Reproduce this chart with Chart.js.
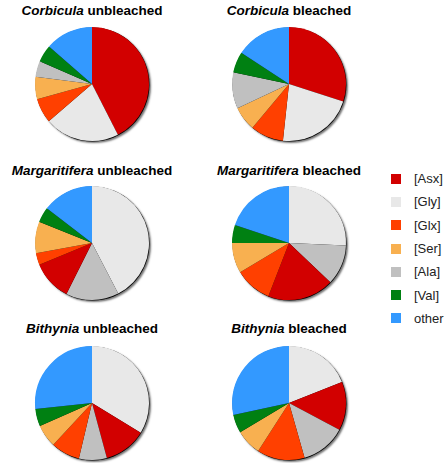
<!DOCTYPE html>
<html lang="en">
<head>
  <meta charset="UTF-8">
  <title>Amino acid composition</title>
  <script src="https://cdn.jsdelivr.net/npm/chart.js"></script>
  <style>
    body {
      margin: 0;
      background: #fff;
      font-family: 'Liberation Sans', Arial, sans-serif;
    }
    #wrap {
      position: relative;
      width: 447px;
      height: 463px;
    }
    .title {
      position: absolute;
      width: 200px;
      text-align: center;
      font-weight: bold;
      font-size: 13.5px;
      color: #000;
      white-space: nowrap;
    }
    .pie {
      position: absolute;
    }
    .legend {
      position: absolute;
      left: 391px;
      top: 167px;
      font-size: 13px;
      color: #222;
    }
    .legend div {
      height: 23.3px;
      display: flex;
      align-items: center;
    }
    .legend span.box {
      display: inline-block;
      width: 10px;
      height: 10px;
      margin-right: 13px;
    }
  </style>
</head>
<body>
<div id="wrap"></div>

<script>
  const categories = ['[Asx]', '[Gly]', '[Glx]', '[Ser]', '[Ala]', '[Val]', 'other'];
  const colors = ['#d20000', '#e8e8e8', '#ff4000', '#f8b050', '#c0c0c0', '#008012', '#3399ff'];

  // percentages, in category order
  const corbiculaUnbleached    = [42.5, 21.2, 7.0, 6.3, 4.5, 4.9, 13.6];
  const corbiculaBleached      = [30.0, 21.7, 9.4, 6.9, 10.3, 5.9, 15.8];
  const margaritiferaUnbleached = [11.4, 42.4, 3.3, 9.0, 15.0, 4.3, 14.6];
  const margaritiferaBleached  = [18.8, 25.7, 10.5, 8.6, 11.4, 5.1, 19.9];
  const bithyniaUnbleached     = [12.1, 33.7, 8.2, 6.5, 7.9, 4.9, 26.7];
  const bithyniaBleached       = [13.8, 19.0, 13.5, 7.3, 12.8, 5.2, 28.4];

  // clockwise slice order (index into categories) used in each pie
  const orderCorbicula = [0, 1, 2, 3, 4, 5, 6];
  const orderMargaritifera = [1, 4, 0, 2, 3, 5, 6];
  const orderBithynia = [1, 0, 4, 2, 3, 5, 6];

  const panels = [
    { genus: 'Corbicula', state: 'unbleached', values: corbiculaUnbleached, order: orderCorbicula, cx: 92, cy: 84, ty: 3 },
    { genus: 'Corbicula', state: 'bleached', values: corbiculaBleached, order: orderCorbicula, cx: 289, cy: 84, ty: 3 },
    { genus: 'Margaritifera', state: 'unbleached', values: margaritiferaUnbleached, order: orderMargaritifera, cx: 92, cy: 243, ty: 163 },
    { genus: 'Margaritifera', state: 'bleached', values: margaritiferaBleached, order: orderMargaritifera, cx: 289, cy: 243, ty: 163 },
    { genus: 'Bithynia', state: 'unbleached', values: bithyniaUnbleached, order: orderBithynia, cx: 92, cy: 403, ty: 321 },
    { genus: 'Bithynia', state: 'bleached', values: bithyniaBleached, order: orderBithynia, cx: 289, cy: 403, ty: 321 }
  ];

  // soft shadow behind the whole pie (lower right)
  const pieShadow = {
    id: 'pieShadow',
    beforeDatasetsDraw(chart) {
      const arc = chart.getDatasetMeta(0).data[0];
      if (!arc) return;
      const c = chart.ctx;
      c.save();
      c.shadowColor = 'rgba(0,0,0,0.55)';
      c.shadowBlur = 2;
      c.shadowOffsetX = 1.5;
      c.shadowOffsetY = 1.5;
      c.fillStyle = '#000';
      c.beginPath();
      c.arc(arc.x + 0.5, arc.y + 0.5, arc.outerRadius, 0, Math.PI * 2);
      c.fill();
      c.restore();
    }
  };

  const wrap = document.getElementById('wrap');
  const SIZE = 124;

  panels.forEach(p => {
    const t = document.createElement('div');
    t.className = 'title';
    t.style.left = (p.cx - 100) + 'px';
    t.style.top = p.ty + 'px';
    t.innerHTML = '<i>' + p.genus + '</i> ' + p.state;
    wrap.appendChild(t);

    const cv = document.createElement('canvas');
    cv.className = 'pie';
    cv.width = SIZE;
    cv.height = SIZE;
    cv.style.left = (p.cx - SIZE / 2) + 'px';
    cv.style.top = (p.cy - SIZE / 2) + 'px';
    wrap.appendChild(cv);

    new Chart(cv.getContext('2d'), {
      type: 'pie',
      data: {
        labels: p.order.map(i => categories[i]),
        datasets: [{
          data: p.order.map(i => p.values[i]),
          backgroundColor: p.order.map(i => colors[i]),
          borderWidth: 0
        }]
      },
      options: {
        responsive: false,
        animation: false,
        layout: { padding: 5 },
        plugins: {
          legend: { display: false },
          tooltip: { enabled: false }
        }
      },
      plugins: [pieShadow]
    });
  });

  const legend = document.createElement('div');
  legend.className = 'legend';
  categories.forEach((c, i) => {
    const row = document.createElement('div');
    row.innerHTML = '<span class="box" style="background:' + colors[i] + '"></span>' + c;
    legend.appendChild(row);
  });
  wrap.appendChild(legend);
</script>
</body>
</html>
